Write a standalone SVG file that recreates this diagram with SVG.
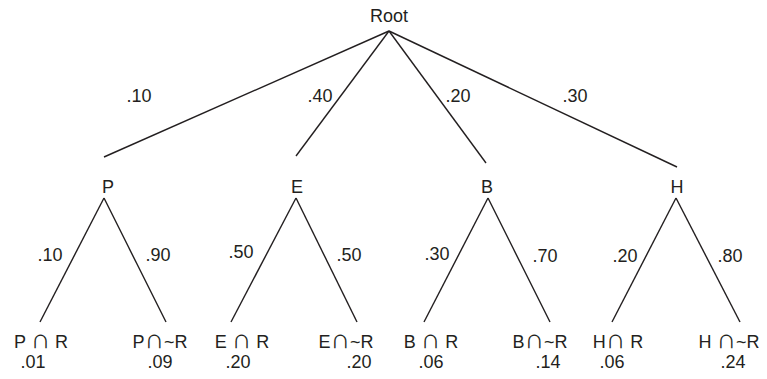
<svg xmlns="http://www.w3.org/2000/svg" width="767" height="379" viewBox="0 0 767 379">
<style>
text{font-family:"Liberation Sans",Arial,sans-serif;font-size:18px;fill:#231f20;text-anchor:middle}
.c{font-size:27px}
.e{stroke:#231f20;stroke-width:1.4;fill:none}
</style>
<rect width="767" height="379" fill="#fff"/>
<g id="connectors">
<line class="e" x1="389" y1="31" x2="104" y2="157"/>
<line class="e" x1="389" y1="31" x2="296" y2="156"/>
<line class="e" x1="389" y1="31" x2="486" y2="163"/>
<line class="e" x1="389" y1="31" x2="677" y2="167"/>
<line class="e" x1="104" y1="198" x2="40" y2="322"/>
<line class="e" x1="104" y1="198" x2="166" y2="322"/>
<line class="e" x1="296" y1="198" x2="231" y2="322"/>
<line class="e" x1="296" y1="198" x2="357" y2="322"/>
<line class="e" x1="488" y1="198" x2="424" y2="322"/>
<line class="e" x1="488" y1="198" x2="550" y2="322"/>
<line class="e" x1="676" y1="198" x2="612" y2="322"/>
<line class="e" x1="676" y1="198" x2="740" y2="322"/>
<text x="139" y="102">.10</text>
<text x="320" y="102">.40</text>
<text x="458" y="102">.20</text>
<text x="575" y="102">.30</text>
<text x="50" y="261">.10</text>
<text x="158" y="261">.90</text>
<text x="241" y="258">.50</text>
<text x="349" y="261">.50</text>
<text x="437" y="260">.30</text>
<text x="545" y="262">.70</text>
<text x="625" y="262">.20</text>
<text x="730" y="262">.80</text>
</g>
<g id="root"><text x="389" y="22">Root</text></g>
<g id="P"><text x="108" y="193">P</text></g>
<g id="E"><text x="297" y="193">E</text></g>
<g id="B"><text x="487" y="193">B</text></g>
<g id="H"><text x="677" y="193">H</text></g>
<g id="PR"><text x="41" y="348">P <tspan class="c">∩</tspan> R</text><text x="33" y="368">.01</text></g>
<g id="PnR"><text x="160" y="348">P<tspan class="c">∩</tspan>~R</text><text x="160" y="368">.09</text></g>
<g id="ER"><text x="242" y="348">E <tspan class="c">∩</tspan> R</text><text x="238" y="368">.20</text></g>
<g id="EnR"><text x="346" y="348">E<tspan class="c">∩</tspan>~R</text><text x="359" y="368">.20</text></g>
<g id="BR"><text x="431" y="348">B <tspan class="c">∩</tspan> R</text><text x="431" y="368">.06</text></g>
<g id="BnR"><text x="540" y="348">B<tspan class="c">∩</tspan>~R</text><text x="548" y="368">.14</text></g>
<g id="HR"><text x="618" y="348">H<tspan class="c">∩</tspan> R</text><text x="612" y="368">.06</text></g>
<g id="HnR"><text x="729" y="348">H <tspan class="c">∩</tspan>~R</text><text x="733" y="368">.24</text></g>
</svg>
